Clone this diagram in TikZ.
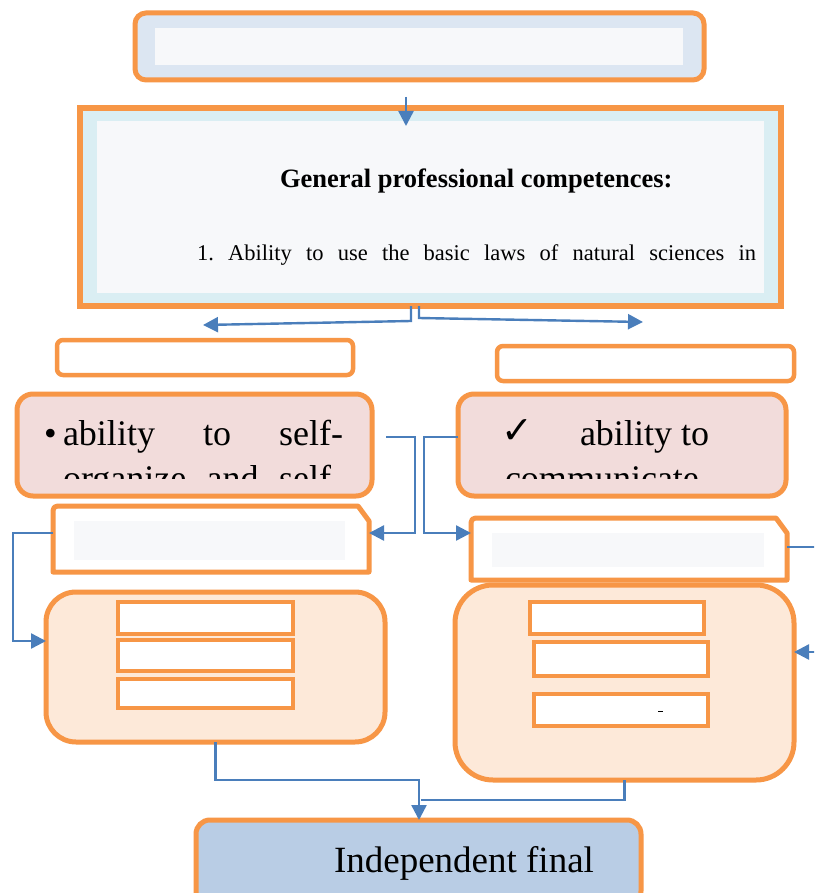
\documentclass[tikz,border=0pt]{standalone}
\usepackage{fontspec}
\setmainfont{Liberation Serif}
\newfontfamily\dejavu{DejaVu Sans}
\usetikzlibrary{arrows.meta}
\definecolor{org}{HTML}{F79646}
\definecolor{lblue}{HTML}{4A7EBB}
\definecolor{topfill}{HTML}{DCE6F2}
\definecolor{innerfill}{HTML}{F7F8FA}
\definecolor{bigfill}{HTML}{DAEEF3}
\definecolor{pinkfill}{HTML}{F2DCDB}
\definecolor{peachfill}{HTML}{FDE9D9}
\definecolor{finalfill}{HTML}{B9CDE5}
\begin{document}
\frenchspacing
\begin{tikzpicture}[x=1pt,y=-1pt,
  obox/.style={draw=org, line width=5pt, inner sep=0pt, outer sep=0pt},
  ibox/.style={draw=org, line width=4pt, fill=white, inner sep=0pt, outer sep=0pt},
  pane/.style={fill=innerfill, draw=none, inner sep=0pt, outer sep=0pt},
  ghost/.style={draw=none, inner sep=0pt, outer sep=0pt},
  conn/.style={draw=lblue, line width=2.4pt},
  arr/.style={conn, -{Triangle[length=15pt,width=15pt]}},
  txt/.style={inner sep=0pt, outer sep=0pt, anchor=base west, text=black}
]
\useasboundingbox (0,0) rectangle (814,893);
\clip (0,0) rectangle (814,893);
\fill[white] (0,0) rectangle (814,893);

% top box
\node[obox, fill=topfill, rounded corners=11pt, minimum width=569pt, minimum height=67pt] (top) at (419.5,46.5) {};
\node[pane, minimum width=528pt, minimum height=37pt] (topin) at (419,46.5) {};

% big box
\node[obox, line width=5.5pt, fill=bigfill, minimum width=701pt, minimum height=198pt] (big) at (430.5,207) {};
\node[pane, minimum width=667pt, minimum height=172pt] (bigin) at (430.5,207) {};
\node[txt, font=\bfseries\fontsize{26.5}{31}\selectfont] (t1) at (280,188) {General professional competences:};
\node[txt, font=\fontsize{22.5}{27}\selectfont] (t2) at (197,260) {\makebox[559pt][s]{1. Ability to use the basic laws of natural sciences in}};

% arrow top -> big
\coordinate (a0) at (406,97);
\coordinate (a1) at (406,126);
\draw[arr] (a0) -- (a1);

% split arrows
\coordinate (s1) at (411,306);
\coordinate (s1b) at (411,321);
\coordinate (la) at (203,325);
\coordinate (s2) at (419,306);
\coordinate (s2b) at (419,318);
\coordinate (ra) at (643,322);
\draw[arr] (s1) -- (s1b) -- (la);
\draw[arr] (s2) -- (s2b) -- (ra);

% small boxes
\node[obox, line width=4.5pt, fill=white, rounded corners=6pt, minimum width=296pt, minimum height=35pt] (sl) at (205,357.5) {};
\node[obox, line width=4.5pt, fill=white, rounded corners=6pt, minimum width=297pt, minimum height=35pt] (sr) at (645.5,363.5) {};

% pink boxes
\node[obox, fill=pinkfill, rounded corners=16pt, minimum width=355pt, minimum height=102pt] (pl) at (194.5,445) {};
\node[obox, fill=pinkfill, rounded corners=16pt, minimum width=328pt, minimum height=102pt] (pr) at (622,445) {};
\begin{scope}
\clip (30,400) rectangle (780,478);
\node[txt, font=\fontsize{36}{43}\selectfont] (bul) at (44,445) {•};
\node[txt, font=\fontsize{36}{43}\selectfont] (l1) at (63,445) {\makebox[280pt][s]{ability to self-}};
\node[txt, font=\fontsize{36}{43}\selectfont] (l2) at (63,490) {\makebox[280pt][s]{organize and self-}};
\node[txt, font=\dejavu\fontsize{38}{40}\selectfont] (chk) at (501,443) {✓};
\node[txt, font=\fontsize{36}{43}\selectfont] (r1) at (580,445) {ability to};
\node[txt, font=\fontsize{36}{43}\selectfont] (r2) at (505,490) {communicate};
\end{scope}

% white snipped boxes
\draw[org, line width=5pt, fill=white, line join=round]
  (53,572) -- (53,516) .. controls (53,506) .. (63,506) -- (358,506) -- (369,521) -- (369,572) -- cycle;
\node[ghost, minimum width=316pt, minimum height=66pt] (wl) at (211,539) {};
\node[pane, minimum width=271pt, minimum height=39pt] (wlin) at (209.5,540.5) {};
\draw[org, line width=5pt, fill=white, line join=round]
  (471,580) -- (471,528) .. controls (471,518) .. (481,518) -- (776,518) -- (787,533) -- (787,580) -- cycle;
\node[ghost, minimum width=316pt, minimum height=62pt] (wr) at (629,549) {};
\node[pane, minimum width=272pt, minimum height=34pt] (wrin) at (628,550) {};

% pink -> white connectors
\coordinate (c1) at (386,437);
\coordinate (c1b) at (415,437);
\coordinate (c1c) at (415,533);
\coordinate (c2b) at (424,437);
\coordinate (c2c) at (424,533);
\draw[arr] (c1) -- (c1b) -- (c1c) -- (wl.east |- c1c);
\draw[arr] (pr.west |- c2b) -- (c2b) -- (c2c) -- (wr.west |- c2c);

% peach boxes
\node[obox, fill=peachfill, rounded corners=30pt, minimum width=339pt, minimum height=150pt] (ql) at (215.5,667) {};
\node[obox, fill=peachfill, rounded corners=38pt, minimum width=339pt, minimum height=195pt] (qr) at (624.5,682.5) {};
\node[ibox, minimum width=175pt, minimum height=32pt] (ql1) at (205.5,618) {};
\node[ibox, minimum width=175pt, minimum height=31pt] (ql2) at (205.5,655.5) {};
\node[ibox, minimum width=175pt, minimum height=29pt] (ql3) at (205.5,693.5) {};
\node[ibox, minimum width=174pt, minimum height=32pt] (qr1) at (617,618) {};
\node[ibox, minimum width=174pt, minimum height=34pt] (qr2) at (621,659) {};
\node[ibox, minimum width=174pt, minimum height=32pt] (qr3) at (621,710) {};
\draw[black, line width=1pt] (658,711) -- (663,711);

% side connectors
\coordinate (e1) at (13,533);
\coordinate (e2) at (13,641);
\draw[arr] (wl.west |- e1) -- (e1) -- (e2) -- (ql.west |- e2);
\coordinate (f1) at (820,547);
\draw[conn] (wr.east |- f1) -- (f1);
\coordinate (f2) at (820,652);
\draw[arr] (f2) -- (qr.east |- f2);

% final box
\node[obox, fill=finalfill, rounded corners=14pt, minimum width=445pt, minimum height=85pt] (fin) at (418.5,862.5) {};
\node[txt, font=\fontsize{37}{44}\selectfont] (ft) at (334,872) {Independent final};

% bottom connectors
\coordinate (g1) at (215.5,780);
\coordinate (g2) at (419,780);
\coordinate (h1) at (624.5,800);
\coordinate (h2) at (421,800);
\draw[arr] (ql.south) -- (g1) -- (g2) -- (g2 |- fin.north);
\draw[conn] (qr.south) -- (h1) -- (h2);
\end{tikzpicture}
\end{document}
